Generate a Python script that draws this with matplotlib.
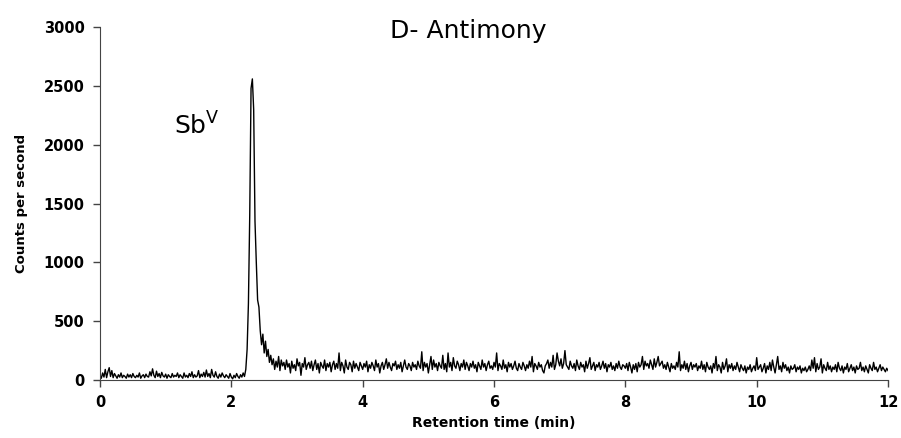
import numpy as np
import matplotlib
matplotlib.use("Agg")
import matplotlib.pyplot as plt

# counts per second, every 0.02 min from 0 to 12 min
counts = [
    40, 15, 60, 25, 90, 20, 70, 105, 30, 80, 20, 55, 35, 15, 45, 25, 60, 20, 40, 30,
    15, 50, 25, 45, 20, 55, 30, 20, 40, 25, 60, 15, 35, 45, 20, 50, 30, 25, 70, 35,
    95, 40, 20, 75, 30, 55, 20, 65, 35, 25, 50, 15, 45, 30, 20, 55, 25, 40, 30, 60,
    20, 45, 30, 15, 60, 25, 40, 20, 55, 30, 70, 20, 45, 25, 35, 80, 20, 50, 30, 65,
    25, 85, 30, 55, 20, 90, 40, 25, 70, 30, 15, 50, 25, 60, 35, 20, 45, 30, 15, 55,
    25, 10, 40, 20, 55, 30, 15, 45, 25, 60, 30, 90, 260, 650, 1400, 2480, 2560, 2300, 1350, 1000,
    680, 620, 420, 300, 390, 230, 330, 200, 260, 150, 210, 130, 180, 90, 160, 110, 200, 80, 170, 120,
    150, 90, 170, 110, 140, 60, 160, 100, 130, 80, 180, 120, 150, 40, 140, 110, 190, 90, 130, 150,
    100, 160, 80, 130, 170, 90, 140, 60, 150, 120, 100, 170, 80, 140, 110, 150, 70, 130, 160, 90,
    140, 100, 230, 80, 150, 120, 60, 170, 110, 90, 150, 130, 70, 160, 100, 140, 110, 80, 150, 120,
    90, 140, 110, 160, 70, 130, 100, 150, 120, 80, 170, 110, 140, 60, 120, 150, 90, 130, 180, 100,
    150, 110, 80, 140, 120, 160, 90, 130, 100, 150, 70, 120, 170, 110, 90, 140, 120, 80, 150, 110,
    130, 90, 160, 120, 100, 240, 80, 150, 110, 140, 60, 130, 200, 90, 170, 110, 140, 80, 150, 120,
    100, 210, 90, 140, 70, 230, 110, 150, 80, 190, 120, 100, 160, 130, 80, 140, 110, 170, 90, 150,
    120, 80, 140, 110, 160, 100, 130, 70, 150, 120, 90, 170, 110, 140, 80, 130, 160, 100, 120, 90,
    150, 110, 230, 80, 140, 120, 90, 170, 100, 130, 70, 150, 110, 140, 90, 120, 160, 100, 80, 140,
    110, 90, 150, 120, 80, 130, 100, 160, 110, 200, 70, 140, 120, 90, 150, 110, 130, 80, 60, 120,
    140, 170, 100, 150, 110, 210, 90, 130, 230, 160, 120, 180, 100, 140, 250, 130, 110, 90, 160, 120,
    100, 140, 80, 170, 120, 90, 150, 110, 130, 70, 160, 100, 140, 190, 90, 120, 150, 80, 130, 110,
    150, 90, 120, 160, 100, 140, 70, 130, 110, 150, 90, 120, 80, 140, 100, 160, 110, 90, 130, 120,
    100, 140, 80, 150, 110, 60, 130, 90, 140, 70, 150, 110, 130, 200, 90, 160, 120, 140, 100, 170,
    130, 90, 180, 110, 150, 200, 120, 140, 160, 100, 130, 90, 150, 110, 70, 140, 100, 120, 90, 150,
    110, 240, 80, 130, 100, 160, 90, 140, 70, 120, 150, 90, 130, 110, 140, 80, 120, 100, 160, 90,
    130, 70, 150, 110, 90, 120, 60, 140, 100, 200, 80, 130, 110, 60, 150, 90, 120, 180, 70, 130,
    100, 140, 80, 120, 90, 150, 110, 70, 130, 100, 80, 120, 60, 110, 90, 130, 70, 100, 120, 80,
    190, 90, 110, 130, 70, 100, 140, 60, 120, 90, 150, 80, 170, 110, 60, 130, 200, 90, 120, 70,
    150, 100, 130, 80, 110, 60, 120, 90, 100, 130, 70, 110, 90, 120, 60, 100, 80, 110, 70, 90,
    120, 80, 170, 100, 190, 70, 140, 90, 110, 180, 60, 130, 100, 80, 150, 90, 120, 70, 110, 90,
    130, 70, 150, 100, 80, 120, 60, 110, 90, 140, 70, 100, 130, 80, 110, 60, 120, 90, 100, 150,
    80, 110, 70, 120, 90, 60, 130, 100, 80, 150, 90, 110, 70, 100, 130, 80, 110, 90, 70, 100,
    80,
]
t_end = 12
time = np.linspace(0, t_end, len(counts))

x_ticks = [0, 2, 4, 6, 8, 10, 12]
y_ticks = [0, 500, 1000, 1500, 2000, 2500, 3000]

fig = plt.figure(figsize=(9.01, 4.38), dpi=100)
ax = fig.add_axes([0.111, 0.1324, 0.8746, 0.8056])

ax.plot(time, counts, color="black", lw=1.0)

ax.set_xlim(0, 12)
ax.set_ylim(0, 3000)
ax.set_xticks(x_ticks)
ax.set_yticks(y_ticks)
for lab in ax.get_xticklabels() + ax.get_yticklabels():
    lab.set_fontweight("bold")
    lab.set_fontsize(10.5)
ax.tick_params(direction="out", length=5, width=1, color="#444444", pad=6)

ax.spines["top"].set_visible(False)
ax.spines["right"].set_visible(False)
ax.spines["left"].set_color("#444444")
ax.spines["bottom"].set_color("#444444")

ax.set_xlabel("Retention time (min)", fontsize=10, fontweight="bold", labelpad=4)
ax.set_ylabel("Counts per second", fontsize=9.5, fontweight="bold", labelpad=11)

ax.text(0.467, 0.99, "D- Antimony", transform=ax.transAxes, ha="center", va="center",
        fontsize=18)
ax.text(1.13, 2040, r"Sb$^{\mathrm{V}}$", fontsize=18, ha="left", va="bottom")

fig.savefig("out.png", dpi=100)
